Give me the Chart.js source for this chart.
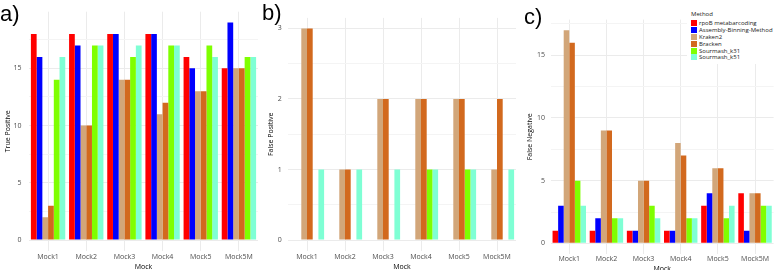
<!DOCTYPE html>
<html>
<head>
<meta charset="utf-8">
<script src="https://cdn.jsdelivr.net/npm/chart.js@4.4.1/dist/chart.umd.min.js"></script>
<style>
    body { margin: 0; background: #fff; }
    #wrap { position: relative; width: 778px; height: 270px; overflow: hidden; background: #fff; }
    canvas { position: absolute; top: 0; }
    .tag { position: absolute; font-family: "Liberation Sans", Arial, sans-serif; font-size: 22px; line-height: 22px; color: #000; }
    #legend { position: absolute; left: 687px; top: 9px; width: 91px; padding: 1px 0 3px 4px; background: #fff;
              font-family: "Open Sans", sans-serif; font-size: 6px; color: #1a1a1a; }
    #legend .ltitle { line-height: 8px; height: 8px; margin-bottom: 2px; }
    #legend .item { display: flex; align-items: center; height: 6.8px; }
    #legend .sw { width: 6px; height: 6px; margin-right: 2px; }
</style>
</head>
<body>
<div id="wrap">
    <canvas id="tpChart" width="260" height="270" style="left:0px"></canvas>
    <canvas id="fpChart" width="262" height="270" style="left:258px"></canvas>
    <canvas id="fnChart" width="258" height="270" style="left:520px"></canvas>
    <div class="tag" style="left:0px; top:2.5px">a)</div>
    <div class="tag" style="left:262px; top:2px">b)</div>
    <div class="tag" style="left:524px; top:5.5px">c)</div>
    <div id="legend"><div class="ltitle">Method</div></div>
</div>
<script>
const mocks = ['Mock1', 'Mock2', 'Mock3', 'Mock4', 'Mock5', 'Mock5M'];
const methods = ['rpoB metabarcoding', 'Assembly-Binning-Method', 'Kraken2', 'Bracken', 'Sourmash_k31', 'Sourmash_k51'];
const methodColors = ['#FF0000', '#0000FF', '#D2A679', '#D2691E', '#7FFF00', '#7FFFD4'];

// una fila por método, una columna por mock
const truePositive = [
    [18, 18, 18, 18, 16, 15],
    [16, 17, 18, 18, 15, 19],
    [2, 10, 14, 11, 13, 15],
    [3, 10, 14, 12, 13, 15],
    [14, 17, 16, 17, 17, 16],
    [16, 17, 17, 17, 16, 16]
];
const falsePositive = [
    [0, 0, 0, 0, 0, 0],
    [0, 0, 0, 0, 0, 0],
    [3, 1, 2, 2, 2, 1],
    [3, 1, 2, 2, 2, 2],
    [0, 0, 0, 1, 1, 0],
    [1, 1, 1, 1, 1, 1]
];
const falseNegative = [
    [1, 1, 1, 1, 3, 4],
    [3, 2, 1, 1, 4, 1],
    [17, 9, 5, 8, 6, 4],
    [16, 9, 5, 7, 6, 4],
    [5, 2, 3, 2, 2, 3],
    [3, 2, 2, 2, 3, 3]
];
const tpTicks = [0, 5, 10, 15];
const fpTicks = [0, 1, 2, 3];
const fnTicks = [0, 5, 10, 15];

const TICK_COLOR = '#4D4D4D';
const GRID_MAJOR = '#EBEBEB';
const GRID_MINOR = '#F4F4F4';

window.addEventListener('load', () => {
    buildLegend();
    printPanel('tpChart', truePositive, tpTicks, 'True Positive', {
        min: -0.95, max: 19.95, pad: { left: 0, top: 10.6, right: 2, bottom: 0 },
        yWidth: 29, xHeight: 19.1, yPad: 7.5, xPad: 2, yTitlePad: 3.8, xTitlePad: -1.5
    });
    printPanel('fpChart', falsePositive, fpTicks, 'False Positive', {
        min: -0.15, max: 3.15, pad: { left: 0, top: 17.9, right: 4, bottom: 0 },
        yWidth: 30, xHeight: 19.4, yPad: 6.3, xPad: 2, yTitlePad: 8.8, xTitlePad: -1.5
    });
    printPanel('fnChart', falseNegative, fnTicks, 'False Negative', {
        min: -0.85, max: 17.85, pad: { left: 0, top: 19.6, right: 4.4, bottom: 0 },
        yWidth: 30.7, xHeight: 16, yPad: 5.8, xPad: 0.5, yTitlePad: 5.8, xTitlePad: -3
    });
});

/**
 * Dibuja un panel de barras agrupadas
 */
function printPanel(canvasId, values, majorTicks, yTitle, g){
    const step = majorTicks[1] - majorTicks[0];
    const gridValues = [];
    for (let v = 0; v <= g.max + 1e-9; v += step / 2) {
        gridValues.push(Math.round(v * 100) / 100);
    }

    const datasets = values.map((row, i) => ({
        label: methods[i],
        data: row,
        backgroundColor: methodColors[i],
        borderWidth: 0,
        categoryPercentage: 0.9,
        barPercentage: 1.0
    }));

    const ctx = document.getElementById(canvasId).getContext('2d');
    new Chart(ctx, {
        type: 'bar',
        data: { labels: mocks, datasets: datasets },
        options: {
            responsive: false,
            animation: false,
            devicePixelRatio: 1,
            layout: { padding: g.pad },
            plugins: { legend: { display: false }, tooltip: { enabled: false } },
            scales: {
                x: {
                    type: 'category',
                    grid: { offset: false, color: GRID_MAJOR, drawTicks: false },
                    border: { display: false },
                    ticks: { color: TICK_COLOR, padding: g.xPad, font: { family: 'Open Sans', size: 7 }, maxRotation: 0, autoSkip: false },
                    title: { display: true, text: 'Mock', color: '#000', padding: { top: 0, bottom: g.xTitlePad }, font: { family: 'Open Sans', size: 7 } },
                    afterFit: (s) => { s.height = g.xHeight; }
                },
                y: {
                    min: g.min,
                    max: g.max,
                    afterBuildTicks: (axis) => { axis.ticks = gridValues.map(v => ({ value: v })); },
                    grid: {
                        drawTicks: false,
                        color: (c) => (c.tick && majorTicks.includes(c.tick.value)) ? GRID_MAJOR : GRID_MINOR
                    },
                    border: { display: false },
                    ticks: {
                        autoSkip: false,
                        color: TICK_COLOR,
                        padding: g.yPad,
                        font: { family: 'Open Sans', size: 7 },
                        callback: (v) => majorTicks.includes(v) ? String(v) : ''
                    },
                    title: { display: true, text: yTitle, color: '#000', padding: { top: g.yTitlePad, bottom: 0 }, font: { family: 'Open Sans', size: 7 } },
                    afterFit: (s) => { s.width = g.yWidth; }
                }
            }
        }
    });
}

/**
 * Leyenda de métodos en la esquina del panel c
 */
function buildLegend(){
    const legend = document.getElementById('legend');
    methods.forEach((name, i) => {
        const item = document.createElement('div');
        item.className = 'item';
        const sw = document.createElement('div');
        sw.className = 'sw';
        sw.style.background = methodColors[i];
        const label = document.createElement('span');
        label.textContent = name;
        item.appendChild(sw);
        item.appendChild(label);
        legend.appendChild(item);
    });
}
</script>
</body>
</html>
